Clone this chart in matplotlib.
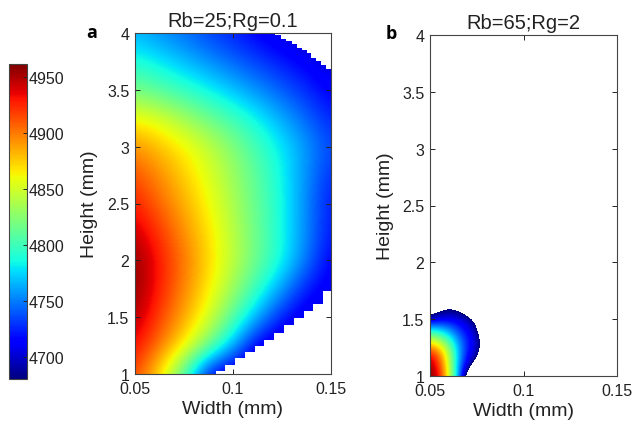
import numpy as np
import matplotlib
matplotlib.use("Agg")
import matplotlib.pyplot as plt

plt.rcParams['font.family'] = ['Liberation Sans', 'DejaVu Sans']

# ---------------- data ----------------
titles = ["Rb=25;Rg=0.1", "Rb=65;Rg=2"]
panel_letters = ["a", "b"]
x_ticks = [0.05, 0.1, 0.15]
x_ticklabels = ["0.05", "0.1", "0.15"]
y_ticks = [1, 1.5, 2, 2.5, 3, 3.5, 4]
y_ticklabels = ["1", "1.5", "2", "2.5", "3", "3.5", "4"]
cbar_ticks = [4700, 4750, 4800, 4850, 4900, 4950]
cbar_ticklabels = ["4700", "4750", "4800", "4850", "4900", "4950"]
clim = (4680, 4962)

# panel a: value sampled on a grid (rows = height, cols = width)
a_width = [0.05, 0.0625, 0.075, 0.0875, 0.1, 0.1125, 0.125, 0.1375, 0.15]
a_height = [1.0, 1.25, 1.5, 1.75, 2.0, 2.25, 2.5, 2.75, 3.0, 3.25, 3.5, 3.75, 4.0]
a_values = [
    [4915, 4869, 4804, 4710, 4695, 4685, 4675, 4665, 4655],
    [4935, 4901, 4867, 4821, 4766, 4708, 4698, 4690, 4682],
    [4950, 4918, 4886, 4854, 4808, 4764, 4722, 4705, 4698],
    [4958, 4928, 4897, 4867, 4833, 4796, 4759, 4722, 4708],
    [4958, 4930, 4901, 4873, 4844, 4815, 4786, 4749, 4712],
    [4945, 4920, 4894, 4869, 4842, 4814, 4786, 4753, 4720],
    [4928, 4906, 4884, 4862, 4837, 4812, 4786, 4753, 4720],
    [4913, 4894, 4875, 4855, 4832, 4809, 4784, 4755, 4727],
    [4893, 4879, 4864, 4846, 4824, 4801, 4780, 4758, 4735],
    [4862, 4853, 4835, 4817, 4800, 4783, 4763, 4744, 4725],
    [4818, 4807, 4795, 4783, 4769, 4755, 4741, 4727, 4712],
    [4790, 4780, 4768, 4756, 4744, 4733, 4722, 4712, 4702],
    [4765, 4755, 4745, 4734, 4724, 4713, 4703, 4697, 4692],
]
# panel a: excluded (blank) regions, stair boundaries
a_low_w = [0.0915, 0.0960, 0.1010, 0.1060, 0.1110, 0.1160, 0.1210,
           0.1260, 0.1310, 0.1360, 0.1410, 0.1460, 0.1500]
a_low_h = [1.03, 1.08, 1.14, 1.19, 1.25, 1.30, 1.36,
           1.43, 1.49, 1.55, 1.62, 1.73, 1.73]
a_up_w = [0.1216, 0.1245, 0.1270, 0.1300, 0.1325, 0.1350, 0.1375,
          0.1400, 0.1425, 0.1450, 0.1475, 0.1500]
a_up_h = [3.98, 3.95, 3.93, 3.90, 3.87, 3.85, 3.82,
          3.78, 3.75, 3.72, 3.68, 3.68]

# panel b: value sampled on a grid (rows = height, cols = width)
b_width = [0.05, 0.055, 0.06, 0.065, 0.07, 0.075, 0.08]
b_height = [1.0, 1.1, 1.2, 1.3, 1.4, 1.5, 1.6]
b_values = [
    [4962, 4935, 4856, 4765, 4650, 4600, 4550],
    [4955, 4920, 4850, 4765, 4705, 4660, 4600],
    [4930, 4900, 4840, 4770, 4720, 4695, 4640],
    [4862, 4845, 4810, 4760, 4725, 4700, 4650],
    [4790, 4780, 4760, 4735, 4715, 4690, 4630],
    [4695, 4708, 4712, 4707, 4695, 4670, 4600],
    [4645, 4665, 4672, 4667, 4650, 4620, 4580],
]

# ---------------- figure ----------------
fig = plt.figure(figsize=(6.33, 4.27), dpi=100)
ax_a = fig.add_axes([135/633, 52/427, 196/633, 341/427])
ax_b = fig.add_axes([430/633, 50/427, 187/633, 341/427])
cax = fig.add_axes([9/633, 47/427, 18/633, 315/427])

jet = plt.get_cmap('jet')
cmap_a = jet.with_extremes(under=jet(0.0), over=jet(1.0))
cmap_b = jet.with_extremes(under='white', over=jet(1.0))


def grid_extent(ws, hs):
    dw = ws[1] - ws[0]
    dh = hs[1] - hs[0]
    return [ws[0] - dw / 2, ws[-1] + dw / 2, hs[0] - dh / 2, hs[-1] + dh / 2]


im_a = ax_a.imshow(np.array(a_values, float), origin='lower', aspect='auto',
                   extent=grid_extent(a_width, a_height), cmap=cmap_a,
                   vmin=clim[0], vmax=clim[1], interpolation='bicubic',
                   interpolation_stage='data')
ax_a.fill_between(a_low_w, 1, a_low_h, step='post', color='white', lw=0, zorder=1)
ax_a.fill_between(a_up_w, a_up_h, 4, step='post', color='white', lw=0, zorder=1)

im_b = ax_b.imshow(np.array(b_values, float), origin='lower', aspect='auto',
                   extent=grid_extent(b_width, b_height), cmap=cmap_b,
                   vmin=clim[0], vmax=clim[1], interpolation='bicubic',
                   interpolation_stage='data')

for ax, title in zip([ax_a, ax_b], titles):
    ax.set_xlim(0.05, 0.15)
    ax.set_ylim(1, 4)
    ax.set_xticks(x_ticks)
    ax.set_xticklabels(x_ticklabels)
    ax.set_yticks(y_ticks)
    ax.set_yticklabels(y_ticklabels)
    ax.tick_params(direction='in', length=3.5, width=0.7, top=True, right=True,
                   labelsize=11.5, colors='#222222')
    ax.tick_params(axis='x', pad=5)
    ax.tick_params(axis='y', pad=4)
    for sp in ax.spines.values():
        sp.set_color('#444444')
        sp.set_linewidth(0.8)
    ax.set_xlabel("Width (mm)", fontsize=14, color='#222222')
    ax.set_ylabel("Height (mm)", fontsize=14, color='#222222')
    ax.set_title(title, fontsize=14.5, pad=5, color='#222222')

ax_a.xaxis.set_label_coords(0.5, -0.076)
ax_b.xaxis.set_label_coords(0.5, -0.076)
ax_a.yaxis.set_label_coords(-0.19, 0.5)
ax_b.yaxis.set_label_coords(-0.193, 0.5)

cb = fig.colorbar(im_a, cax=cax, ticks=cbar_ticks)
cb.ax.set_yticklabels(cbar_ticklabels)
cb.ax.tick_params(direction='in', length=3, width=0.7, labelsize=11.5, pad=1.5,
                  colors='#222222')
cb.outline.set_linewidth(0.8)
cb.outline.set_edgecolor('#444444')

fig.text(92/633, 1 - 33/427, panel_letters[0], fontsize=13, fontweight='bold',
         family=['Open Sans', 'DejaVu Sans'], ha='center', va='center')
fig.text(391/633, 1 - 34/427, panel_letters[1], fontsize=13, fontweight='bold',
         family=['Open Sans', 'DejaVu Sans'], ha='center', va='center')

fig.savefig("out.png", dpi=100)
